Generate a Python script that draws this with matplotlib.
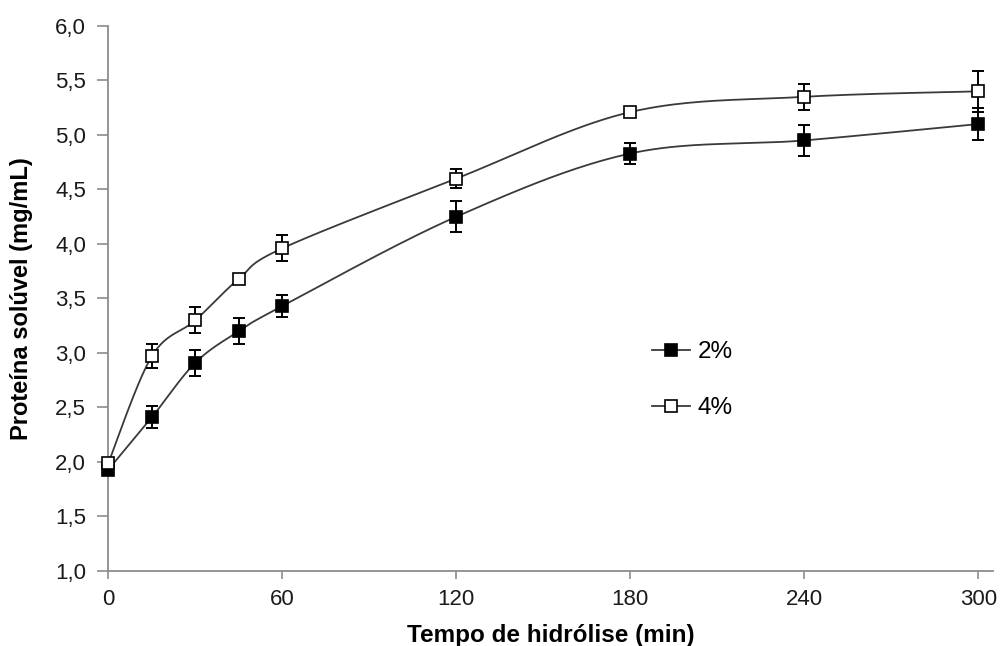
import numpy as np
import matplotlib
matplotlib.use("Agg")
import matplotlib.pyplot as plt
from matplotlib.lines import Line2D

plt.rcParams['font.family'] = ['Liberation Sans', 'DejaVu Sans']

time_min = [0, 15, 30, 45, 60, 120, 180, 240, 300]
prot_2 = [1.93, 2.41, 2.91, 3.20, 3.43, 4.25, 4.83, 4.95, 5.10]
err_2 = [0.00, 0.10, 0.12, 0.12, 0.10, 0.14, 0.10, 0.14, 0.15]
prot_4 = [1.99, 2.97, 3.30, 3.68, 3.96, 4.60, 5.21, 5.35, 5.40]
err_4 = [0.00, 0.11, 0.12, 0.00, 0.12, 0.09, 0.00, 0.12, 0.19]

x_ticks = [0, 60, 120, 180, 240, 300]
y_ticks = [1.0, 1.5, 2.0, 2.5, 3.0, 3.5, 4.0, 4.5, 5.0, 5.5, 6.0]
y_tick_labels = ["1,0", "1,5", "2,0", "2,5", "3,0", "3,5", "4,0", "4,5", "5,0", "5,5", "6,0"]
series_labels = ["2%", "4%"]


def smooth(x, y, n=40):
    """Excel-like smoothed line (Catmull-Rom cubic Bezier)."""
    x = np.asarray(x, float)
    y = np.asarray(y, float)
    P = np.column_stack([x, y])
    out = []
    N = len(P)
    for i in range(N - 1):
        p0 = P[i - 1] if i > 0 else P[i]
        p1 = P[i]
        p2 = P[i + 1]
        p3 = P[i + 2] if i + 2 < N else P[i + 1]
        c1 = p1 + (p2 - p0) / 6.0
        c2 = p2 - (p3 - p1) / 6.0
        t = np.linspace(0, 1, n)[:, None]
        seg = ((1 - t) ** 3) * p1 + 3 * ((1 - t) ** 2) * t * c1 + 3 * (1 - t) * t ** 2 * c2 + t ** 3 * p2
        if i > 0:
            seg = seg[1:]
        out.append(seg)
    out = np.vstack(out)
    return out[:, 0], out[:, 1]


fig = plt.figure(figsize=(10.01, 6.46), dpi=100)
ax = fig.add_axes([0.1082, 0.1161, 0.8835, 0.8437])

line_col = '#3a3a3a'
for vals, errs, face, z in [(prot_2, err_2, 'black', 3), (prot_4, err_4, 'white', 4)]:
    sx, sy = smooth(time_min, vals)
    ax.plot(sx, sy, color=line_col, lw=1.3, zorder=z, clip_on=False)
    ax.errorbar(time_min, vals, yerr=errs, fmt='none', ecolor='black', elinewidth=1.4,
                capsize=4.5, capthick=1.4, zorder=z + 0.1, clip_on=False)
    ax.plot(time_min, vals, linestyle='none', marker='s', markersize=8,
            markerfacecolor=face, markeredgecolor='black', markeredgewidth=1.2,
            zorder=z + 0.2, clip_on=False)

ax.set_xlim(0, 305)
ax.set_ylim(1.0, 6.0)
ax.set_xticks(x_ticks)
ax.set_xticklabels([str(v) for v in x_ticks])
ax.set_yticks(y_ticks)
ax.set_yticklabels(y_tick_labels)

for s in ['top', 'right']:
    ax.spines[s].set_visible(False)
for s in ['left', 'bottom']:
    ax.spines[s].set_color('#8c8c8c')
    ax.spines[s].set_linewidth(1.3)

ax.tick_params(axis='y', direction='out', length=8, width=1.2, color='#8c8c8c',
               labelsize=16, labelcolor='#1a1a1a', pad=8)
ax.tick_params(axis='x', direction='out', length=6, width=1.2, color='#8c8c8c',
               labelsize=16, labelcolor='#1a1a1a', pad=7)

ax.set_xlabel('Tempo de hidrólise (min)', fontsize=17.5, fontweight='bold', labelpad=10)
ax.set_ylabel('Proteína solúvel (mg/mL)', fontsize=17, fontweight='bold', labelpad=16)

handles = [
    Line2D([0], [0], color=line_col, lw=1.3, marker='s', markersize=8,
           markerfacecolor='black', markeredgecolor='black', markeredgewidth=1.2),
    Line2D([0], [0], color=line_col, lw=1.3, marker='s', markersize=8,
           markerfacecolor='white', markeredgecolor='black', markeredgewidth=1.2),
]
ax.legend(handles, series_labels, loc='upper left', bbox_to_anchor=(0.615, 0.422),
          frameon=False, fontsize=17.5, handlelength=1.56, handletextpad=0.3,
          labelspacing=1.4, borderaxespad=0, borderpad=0)

fig.savefig('out.png', dpi=100)
